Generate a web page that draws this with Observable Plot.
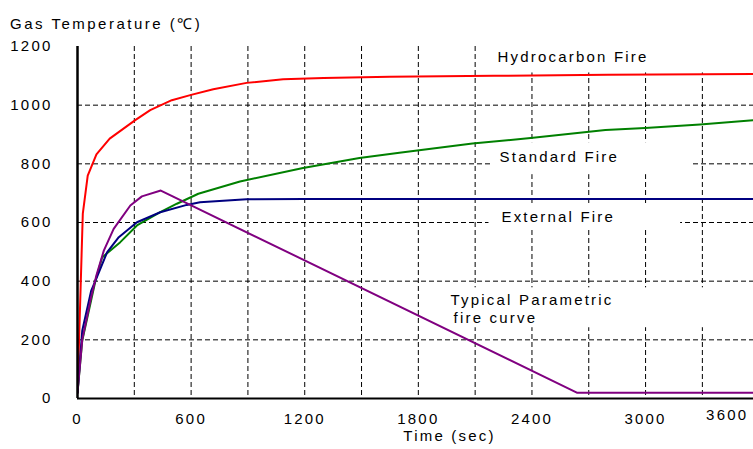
<!DOCTYPE html>
<html>
<head>
<meta charset="utf-8">
<script src="https://cdn.jsdelivr.net/npm/d3@7"></script>
<script src="https://cdn.jsdelivr.net/npm/@observablehq/plot@0.6"></script>
<style>
  html, body { margin: 0; padding: 0; background: white; overflow: hidden; }
  #title { box-sizing: border-box; height: 34px; padding: 13px 0 0 10px; font: 15px 'Liberation Sans', Arial, sans-serif; letter-spacing: 2.5px; color: #000; white-space: nowrap; }
</style>
</head>
<body>
<div id="title">Gas Temperature (℃)</div>
<div id="chart"></div>
<script>
// ---- data (time in sec, temperature in °C) ----
const hydroTime = [0, 28, 54, 100, 170, 305, 384, 498, 600, 717, 893, 1086, 1300, 1650, 2200, 2800, 3600];
const hydroTemp = [20, 630, 760, 832, 886, 949, 983, 1017, 1035, 1054, 1076, 1088, 1093, 1097, 1100, 1104, 1106];

const standardTime = [0, 25, 95, 130, 226, 314, 437, 525, 638, 858, 1191, 1489, 1700, 2086, 2393, 2788, 2998, 3288, 3600];
const standardTemp = [20, 197, 402, 481, 533, 590, 635, 664, 698, 740, 786, 820, 838, 869, 888, 915, 922, 934, 950];

const externalTime = [0, 25, 72, 95, 156, 218, 314, 437, 577, 647, 893, 1200, 3600];
const externalTemp = [20, 231, 367, 402, 498, 550, 601, 635, 660, 669, 679, 680, 680];

const paramTime = [0, 25, 72, 100, 139, 191, 279, 340, 440, 2637, 3600];
const paramTemp = [20, 200, 345, 420, 504, 578, 658, 689, 709, 20, 20];

const xTicks = [0, 600, 1200, 1800, 2400, 3000];
const xExtraTick = [3600];
const yTicks = [0, 200, 400, 600, 800, 1000, 1200];
const xGrid = [300, 600, 900, 1200, 1500, 1800, 2100, 2400, 2700, 3000, 3300];
const yGrid = [200, 400, 600, 800, 1000];

const labelText = ["Hydrocarbon Fire", "Standard Fire", "External Fire", "Typical Parametric", "fire curve"];
const labelTime = [2218, 2229, 2239, 1970, 1986];
const labelTemp = [1162, 822, 617, 334, 273];
// white box padding around each label [left, top, right, bottom] in px
const labelPad = [[12, 12, 72, 7], [7, 6, 73, 9], [13, 3, 65, 4], [3, 4, 107, 10], [6, 10, 187, 1]];

const series = [
  {t: hydroTime, v: hydroTemp, color: "#ff0000"},
  {t: standardTime, v: standardTemp, color: "#008000"},
  {t: externalTime, v: externalTemp, color: "#000080"},
  {t: paramTime, v: paramTemp, color: "#800080"}
];
const labels = labelText.map((text, i) => ({text, t: labelTime[i], v: labelTemp[i]}));

const dash = "5,3";
const svg = Plot.plot({
  width: 753,
  height: 415,
  marginLeft: 77,
  marginRight: 0,
  marginTop: 12,
  marginBottom: 51,
  style: {fontFamily: "'Liberation Sans', Arial, sans-serif", fontSize: "15px", letterSpacing: "2.2px", background: "white", color: "black"},
  x: {domain: [0, 3570], ticks: xTicks, tickSize: 0, tickPadding: 15, tickFormat: d => String(d), label: null},
  y: {domain: [0, 1200], ticks: yTicks, tickSize: 0, tickPadding: 25, tickFormat: d => String(d), label: null},
  marks: [
    Plot.ruleY(yGrid, {stroke: "black", strokeWidth: 1, strokeDasharray: dash}),
    Plot.ruleX(xGrid, {stroke: "black", strokeWidth: 1, strokeDasharray: dash}),
    Plot.text(labels, {x: "t", y: "v", text: "text", textAnchor: "start", fill: "black", ariaDescription: "annotations"}),
    ...series.map(s => Plot.line(s.t.map((t, i) => ({t, v: s.v[i]})), {x: "t", y: "v", stroke: s.color, strokeWidth: 2, clip: true})),
    Plot.ruleX([0], {stroke: "black", strokeWidth: 2.5}),
    Plot.ruleY([0], {stroke: "black", strokeWidth: 2}),
    Plot.text(xExtraTick, {x: d => d, text: d => String(d), frameAnchor: "bottom", dy: 21, dx: -32, fill: "black"}),
    Plot.text(["Time (sec)"], {text: d => d, frameAnchor: "bottom", dx: 34, dy: 42, fill: "black"})
  ]
});
document.getElementById("chart").append(svg);

// white boxes behind the annotation labels (hide the grid like the original)
const g = svg.querySelector('g[aria-description="annotations"]');
if (g) {
  const texts = Array.from(g.querySelectorAll("text"));
  const rects = texts.map((el, i) => {
    const b = el.getBBox();
    const p = labelPad[i] || [4, 4, 4, 4];
    const r = document.createElementNS("http://www.w3.org/2000/svg", "rect");
    r.setAttribute("x", b.x - p[0]);
    r.setAttribute("y", b.y - p[1]);
    r.setAttribute("width", b.width + p[0] + p[2]);
    r.setAttribute("height", b.height + p[1] + p[3]);
    r.setAttribute("fill", "white");
    r.setAttribute("stroke", "none");
    const tr = el.getAttribute("transform");
    if (tr) r.setAttribute("transform", tr);
    return r;
  });
  const first = g.firstChild;
  rects.forEach(r => g.insertBefore(r, first));
}
</script>
</body>
</html>
